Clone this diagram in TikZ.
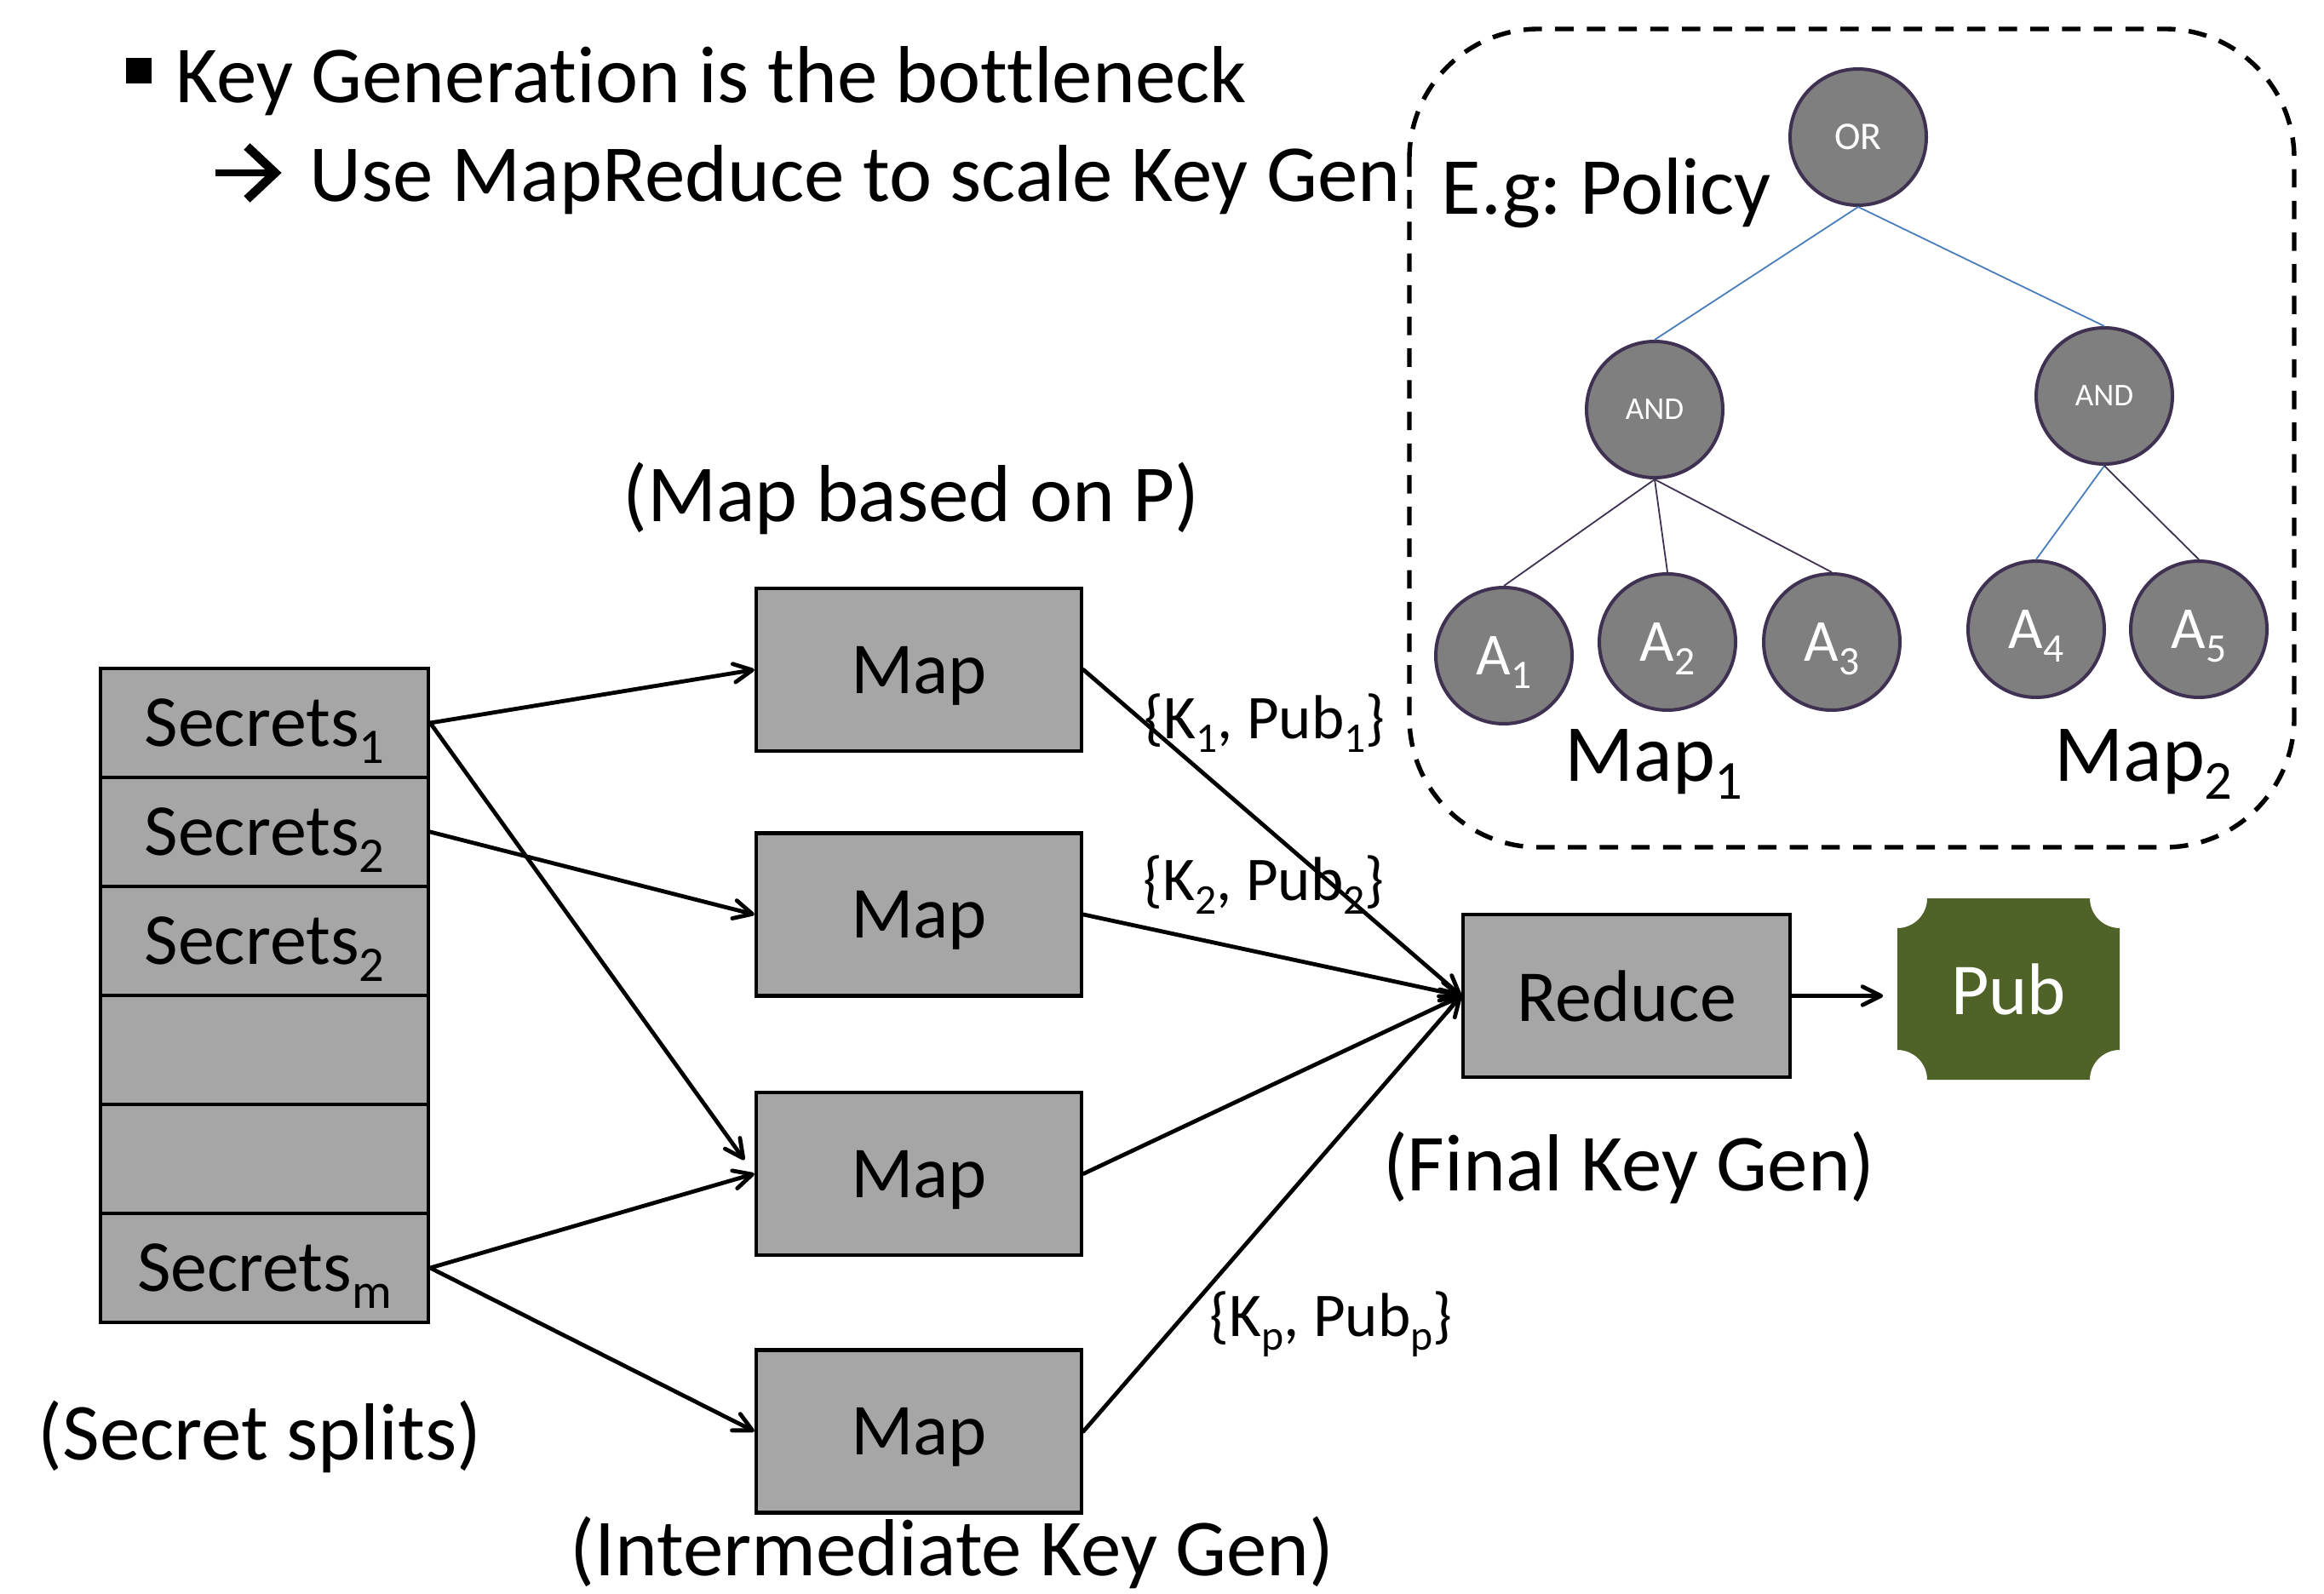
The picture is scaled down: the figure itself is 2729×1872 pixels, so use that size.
\documentclass[tikz,border=0pt]{standalone}
\usepackage{fontspec}
\setmainfont{Carlito}[Ligatures=NoCommon]
\usepackage{graphicx}
\usetikzlibrary{arrows.meta}
\newcommand\sbs[1]{\raisebox{-0.23em}{\scalebox{0.68}{#1}}}
\definecolor{boxgray}{HTML}{A6A6A6}
\definecolor{circgray}{HTML}{7F7F7F}
\definecolor{circline}{HTML}{3F3151}
\definecolor{pubgreen}{HTML}{4F6228}
\definecolor{treeblue}{HTML}{4A7EBB}
\frenchspacing
\begin{document}
\begin{tikzpicture}[x=0.25pt,y=-0.25pt,
  big/.style={font=\fontsize{23.75}{28}\selectfont, inner sep=0pt},
  lab/.style={font=\fontsize{18.25}{22}\selectfont, inner sep=0pt},
  srow/.style={draw=black, fill=boxgray, line width=1.1pt, minimum width=96.25pt, minimum height=32pt, inner sep=0pt, text depth=0pt, font=\fontsize{21.5}{25}\selectfont},
  mapbox/.style={draw=black, fill=boxgray, line width=1.1pt, minimum width=95.5pt, minimum height=47.75pt, inner sep=0pt, text depth=0pt, font=\fontsize{21.5}{25}\selectfont},
  circ/.style={circle, draw=circline, fill=circgray, line width=1pt, minimum size=40pt, inner sep=0pt, text depth=0pt, text=white},
  atxt/.style={font=\fontsize{17.5}{20}\selectfont},
  ortxt/.style={font=\fontsize{11.5}{14}\selectfont},
  andtxt/.style={font=\fontsize{9.3}{11}\selectfont},
  arr/.style={line width=1.2pt, line cap=round, -{Straight Barb[length=5.4pt,width=5.4pt,round]}},
  blueedge/.style={draw=treeblue, line width=0.45pt},
  darkedge/.style={draw=circline, line width=0.45pt}
]
\useasboundingbox (0,0) rectangle (2729,1872);

% header
\fill (148,68) rectangle (178,98);
\node[big, anchor=base west] (t1) at (206,121) {Key Generation is the bottleneck};
\draw[line width=2pt] (253,203) -- (318,203);
\draw[line width=2.6pt, miter limit=10] (290,172) -- (323,203) -- (290,234);
\node[big, anchor=base west] (t2) at (363,237) {Use MapReduce to scale Key Gen};

% policy box
\draw[dash pattern=on 5.4pt off 3.9pt, line width=1.35pt, rounded corners=38pt] (1655,34) rectangle (2694,995);
\node[big, anchor=base west] (eg) at (1692,252) {E.g: Policy};

\node[circ, ortxt] (or) at (2182,161) {OR};
\node[circ, andtxt] (andl) at (1943,481) {AND};
\node[circ, andtxt] (andr) at (2471,465) {AND};
\node[circ, atxt] (a1) at (1766,770) {A\sbs{1}};
\node[circ, atxt] (a2) at (1958,754) {A\sbs{2}};
\node[circ, atxt] (a3) at (2151,754) {A\sbs{3}};
\node[circ, atxt] (a4) at (2391,739) {A\sbs{4}};
\node[circ, atxt] (a5) at (2582,739) {A\sbs{5}};
\draw[blueedge] (or.south) -- (andl.north);
\draw[blueedge] (or.south) -- (andr.north);
\draw[blueedge] (andr.south) -- (a4.north);
\draw[darkedge] (andl.south) -- (a1.north);
\draw[darkedge] (andl.south) -- (a2.north);
\draw[darkedge] (andl.south) -- (a3.north);
\draw[darkedge] (andr.south) -- (a5.north);
\node[big, anchor=base] (mp1) at (1942,917) {Map\sbs{1}};
\node[big, anchor=base] (mp2) at (2517,917) {Map\sbs{2}};

% secrets stack
\node[srow] (s1) at (310.5,849) {Secrets\sbs{1}};
\node[srow] (s2) at (310.5,977) {Secrets\sbs{2}};
\node[srow] (s3) at (310.5,1105) {Secrets\sbs{2}};
\node[srow] (s4) at (310.5,1233) {};
\node[srow] (s5) at (310.5,1361) {};
\node[srow] (s6) at (310.5,1489) {Secrets\sbs{m}};

% map boxes
\node[mapbox] (m1) at (1079,786.5) {Map};
\node[mapbox] (m2) at (1079,1074) {Map};
\node[mapbox] (m3) at (1079,1378.5) {Map};
\node[mapbox] (m4) at (1079,1681) {Map};
\node[mapbox, minimum width=96pt] (red) at (1910,1169.5) {Reduce};

% pub
\fill[pubgreen] (2263,1055) -- (2454,1055) arc[start angle=180, end angle=90, radius=35]
  -- (2489,1233) arc[start angle=270, end angle=180, radius=35]
  -- (2263,1268) arc[start angle=0, end angle=-90, radius=35]
  -- (2228,1090) arc[start angle=90, end angle=0, radius=35] -- cycle;
\node[minimum width=65.25pt, minimum height=53.25pt, inner sep=0pt, text depth=0pt, text=white, font=\fontsize{21.5}{25}\selectfont] (pub) at (2358.5,1161.5) {Pub};

% labels
\node[big, anchor=base] (lmap) at (1070,613) {(Map based on P)};
\node[big, anchor=base] (lsec) at (305,1714) {(Secret splits)};
\node[big, anchor=base] (lint) at (1118,1850) {(Intermediate Key Gen)};
\node[big, anchor=base] (lfin) at (1913,1398) {(Final Key Gen)};
\node[lab, anchor=base] (k1) at (1485,867) {\textbraceleft K\sbs{1}, Pub\sbs{1}\textbraceright};
\node[lab, anchor=base] (k2) at (1484,1057) {\textbraceleft K\sbs{2}, Pub\sbs{2}\textbraceright};
\node[lab, anchor=base] (kp) at (1563,1569) {\textbraceleft K\sbs{p}, Pub\sbs{p}\textbraceright};

% arrows
\draw[arr] (s1.east) -- (m1.west);
\draw[arr, shorten >=5pt] (s1.east) -- (m3.west);
\draw[arr] (s2.east) -- (m2.west);
\draw[arr] (s6.east) -- (m3.west);
\draw[arr] (s6.east) -- (m4.west);
\draw[arr] (m1.east) -- (red.west);
\draw[arr] (m2.east) -- (red.west);
\draw[arr] (m3.east) -- (red.west);
\draw[arr] (m4.east) -- (red.west);
\draw[arr, shorten >=4pt] (red.east) -- (red.east -| pub.west);
\end{tikzpicture}
\end{document}
